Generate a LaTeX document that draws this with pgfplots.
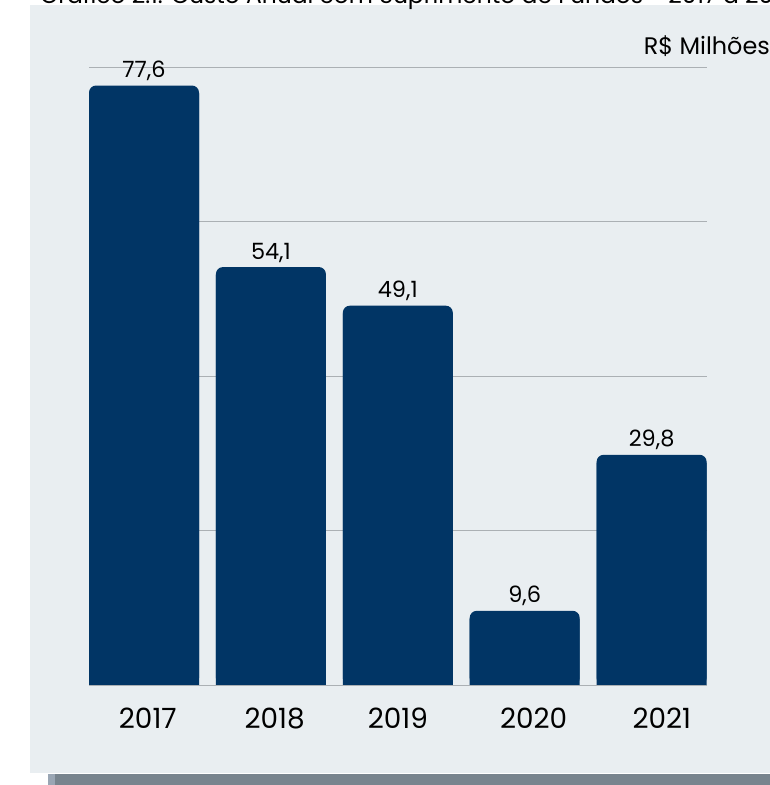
\documentclass[border=0pt]{standalone}
\usepackage{pgfplots}
\pgfplotsset{compat=1.18}
\usepackage{pgfplotstable}
\usepackage{fontspec}
\setmainfont{Poppins}
\definecolor{panel}{HTML}{E9EEF1}
\definecolor{navy}{HTML}{013565}
\definecolor{gridgray}{HTML}{ABB0B4}
\definecolor{shadow}{HTML}{78848E}
\definecolor{shadowlight}{HTML}{9AA6B4}
\pgfplotstableread{
x v
0 77.6
1 54.1
2 49.1
3 9.6
4 29.8
}\data
\begin{document}
\begin{tikzpicture}[x=1bp,y=1bp]
\clip (0,0) rectangle (770,785);
\useasboundingbox (0,0) rectangle (770,785);
% panel and shadow
\fill[shadowlight] (48,0) rectangle (770,11);
\fill[shadow] (55,0) rectangle (770,11);
\fill[panel] (30,12) rectangle (770,780);
% clipped title
\node[anchor=base west, inner sep=0pt, font=\fontsize{23.5}{28}\selectfont] at (40,781) {Gráfico 2.1: Custo Anual com Suprimento de Fundos - 2017 a 2021};
\node[anchor=base east, inner sep=0pt, font=\fontsize{24}{28}\selectfont] at (770,730) {R\$ Milhões};
\begin{axis}[
  at={(144bp,100bp)}, anchor=origin,
  scale only axis, width=618bp, height=618bp,
  xmin=-0.435, xmax=4.435, ymin=0, ymax=80,
  axis line style={draw=none},
  major tick style={draw=none},
  ytick={0,20,40,60,80}, yticklabels={},
  ymajorgrids, grid style={gridgray, line width=0.8pt},
  xtick={0.03,1.03,2,3.07,4.08}, xticklabels={2017,2018,2019,2020,2021},
  xticklabel style={font=\fontsize{28}{32}\selectfont, anchor=base, yshift=-44bp, inner sep=0pt},
  clip=false,
  /pgf/number format/assume math mode=true,
]
\addplot[ybar, bar width=110bp, bar shift=0pt, fill=navy, draw=none, rounded corners=7bp,
  nodes near coords,
  nodes near coords style={font=\fontsize{22.5}{26}\selectfont, text=black, anchor=base, yshift=8bp, inner sep=0pt,
    /pgf/number format/.cd, use comma, fixed, fixed zerofill, precision=1, assume math mode=true}]
  table[x=x, y=v] {\data};
\addplot[ybar, bar width=110bp, bar shift=0pt, fill=navy, draw=none]
  table[x=x, y expr=\thisrow{v}-1] {\data};
\end{axis}
\end{tikzpicture}
\end{document}
